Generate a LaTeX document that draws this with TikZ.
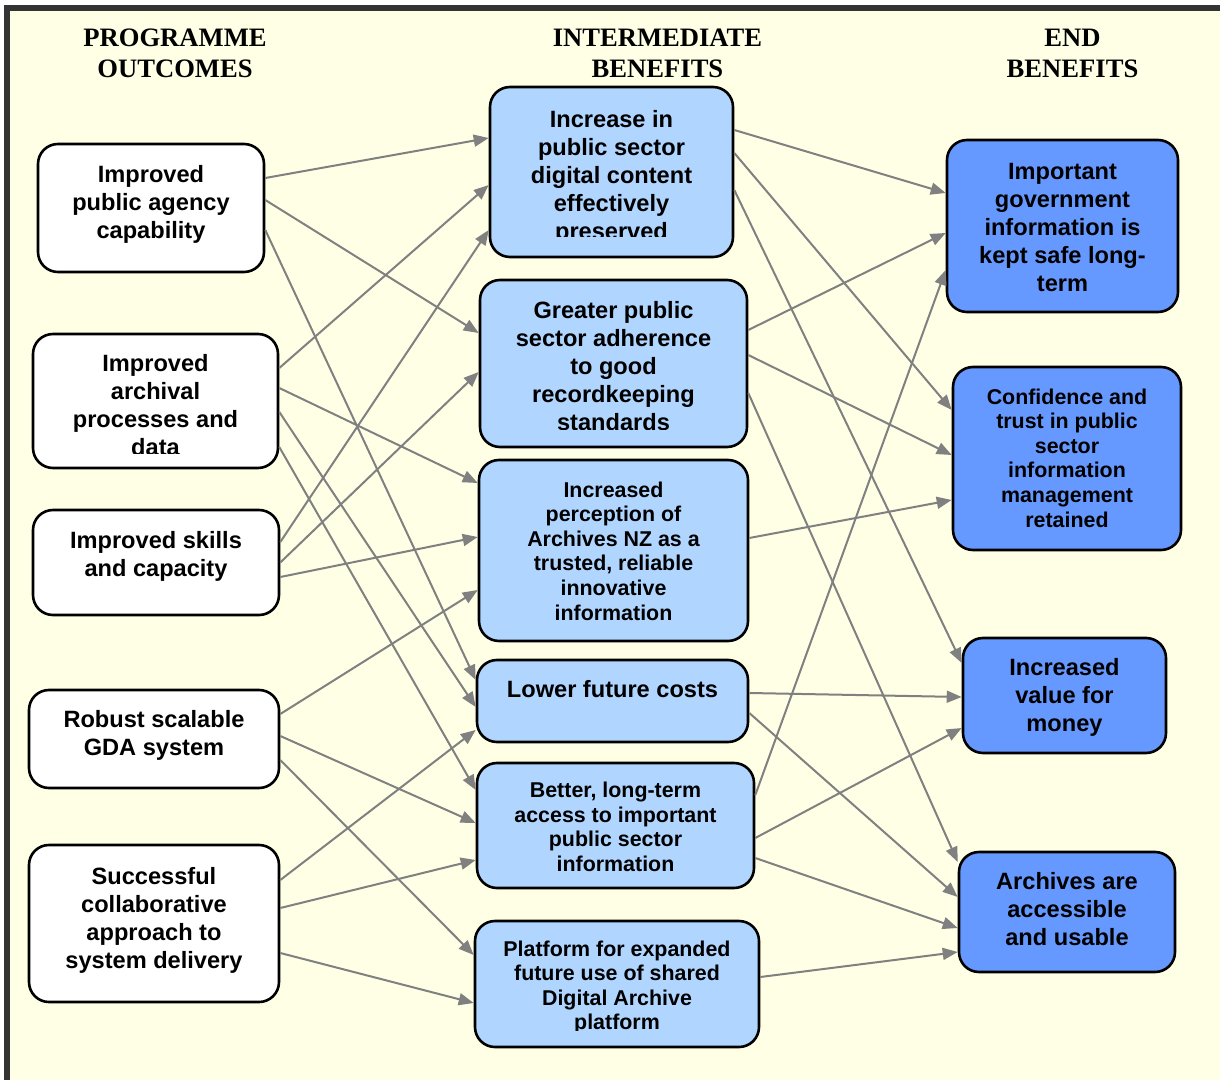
\documentclass[tikz,border=0pt]{standalone}
\usepackage{fontspec}
\setmainfont{Liberation Sans}
\newfontfamily\headfont{Liberation Serif}
\usetikzlibrary{arrows.meta}
\definecolor{bgyellow}{RGB}{255,255,230}
\definecolor{framegray}{RGB}{51,51,51}
\definecolor{midblue}{RGB}{176,214,255}
\definecolor{endblue}{RGB}{102,153,255}
\definecolor{linkgray}{RGB}{128,128,128}
\begin{document}
\begin{tikzpicture}[x=0.5pt, y=-0.5pt,
    box/.style={draw=black, line width=1.3pt, rounded corners=10pt, inner sep=0pt},
    outbox/.style={box, fill=white},
    midbox/.style={box, fill=midblue},
    endbox/.style={box, fill=endblue},
    bigtxt/.style={align=center, inner sep=0pt, font=\bfseries\fontsize{11.8}{14}\selectfont},
    smalltxt/.style={align=center, inner sep=0pt, font=\bfseries\fontsize{10.7}{12.3}\selectfont},
    head/.style={align=center, inner sep=0pt, font=\headfont\bfseries\fontsize{13.3}{15.5}\selectfont},
    link/.style={draw=linkgray, line width=1pt, -{Triangle[length=7.5pt,width=6pt]}}]
    \useasboundingbox (0,0) rectangle (1220,1080);

    % Page and frame
    \fill[white] (0,0) rectangle (1220,1080);
    \fill[bgyellow] (7,8) rectangle (1220,1080);
    \draw[framegray, line width=3pt] (7,1080) -- (7,8) -- (1220,8);

    % Column headings
    \node[head] (hprog) at (175,53.5) {PROGRAMME\\OUTCOMES};
    \node[head] (hinter) at (657.5,53.5) {INTERMEDIATE\\BENEFITS};
    \node[head] (hend) at (1072.5,53.5) {END\\BENEFITS};

    % Programme outcomes
    \node[outbox, minimum width=113pt, minimum height=64pt] (pagency) at (151,208) {};
    \node[outbox, minimum width=122.5pt, minimum height=67pt] (archproc) at (155.5,401) {};
    \node[outbox, minimum width=123pt, minimum height=52.5pt] (skills) at (156,562.5) {};
    \node[outbox, minimum width=125pt, minimum height=49pt] (gda) at (154,739) {};
    \node[outbox, minimum width=125pt, minimum height=78.5pt] (collab) at (154,923.5) {};

    \node[bigtxt] (pagency-t) at (151,204.5) {Improved\\public agency\\capability};
    \begin{scope}
      \clip (33,334) rectangle (278,453);
      \node[bigtxt] (archproc-t) at (155.5,405.5) {Improved\\archival\\processes and\\data};
    \end{scope}
    \node[bigtxt] (skills-t) at (156,556) {Improved skills\\and capacity};
    \node[bigtxt] (gda-t) at (154,735) {Robust scalable\\GDA system};
    \node[bigtxt] (collab-t) at (154,920) {Successful\\collaborative\\approach to\\system delivery};

    % Intermediate benefits
    \node[midbox, minimum width=121.5pt, minimum height=85pt] (preserved) at (611.5,172) {};
    \node[midbox, minimum width=133.5pt, minimum height=83.5pt] (adherence) at (613.5,363.5) {};
    \node[midbox, minimum width=134.5pt, minimum height=90.5pt] (perception) at (613.5,550.5) {};
    \node[midbox, minimum width=135.5pt, minimum height=41pt] (costs) at (612.5,701) {};
    \node[midbox, minimum width=138.5pt, minimum height=62.5pt] (access) at (615.5,825.5) {};
    \node[midbox, minimum width=142pt, minimum height=63pt] (platform) at (617,984) {};

    \begin{scope}
      \clip (490,87) rectangle (733,237);
      \node[bigtxt] (preserved-t) at (611.5,177.5) {Increase in\\public sector\\digital content\\effectively\\preserved};
    \end{scope}
    \begin{scope}
      \clip (480,280) rectangle (747,429);
      \node[bigtxt] (adherence-t) at (613.5,366.5) {Greater public\\sector adherence\\to good\\recordkeeping\\standards};
    \end{scope}
    \node[smalltxt] (perception-t) at (613.5,551) {Increased\\perception of\\Archives NZ as a\\trusted, reliable\\innovative\\information};
    \node[bigtxt] (costs-t) at (612.5,689) {Lower future costs};
    \node[smalltxt] (access-t) at (615.5,827) {Better, long-term\\access to important\\public sector\\information};
    \begin{scope}
      \clip (475,921) rectangle (759,1030);
      \node[smalltxt] (platform-t) at (617,987.5) {Platform for expanded\\future use of shared\\Digital Archive\\platform};
    \end{scope}

    % End benefits
    \node[endbox, minimum width=115.5pt, minimum height=86pt] (keptsafe) at (1062.5,226) {};
    \node[endbox, minimum width=114pt, minimum height=91.5pt] (confidence) at (1067,458.5) {};
    \node[endbox, minimum width=101.5pt, minimum height=57.5pt] (value) at (1064.5,695.5) {};
    \node[endbox, minimum width=108pt, minimum height=60pt] (accessible) at (1067,912) {};

    \node[bigtxt] (keptsafe-t) at (1062.5,227) {Important\\government\\information is\\kept safe long-\\term};
    \node[smalltxt] (confidence-t) at (1067,458) {Confidence and\\trust in public\\sector\\information\\management\\retained};
    \node[bigtxt] (value-t) at (1064.5,697.5) {Increased\\value for\\money};
    \node[bigtxt] (accessible-t) at (1067,909.5) {Archives are\\accessible\\and usable};

    % Outcomes to intermediate benefits
    \draw[link] ([yshift=15pt]pagency.east) -- ([yshift=17pt]preserved.west);
    \draw[link] ([yshift=4pt]pagency.east) -- ([yshift=15.25pt]adherence.west);
    \draw[link] ([yshift=-11pt]pagency.east) -- ([yshift=10.5pt]costs.west);
    \draw[link] ([yshift=16.5pt]archproc.east) -- ([yshift=-6.5pt]preserved.west);
    \draw[link] ([yshift=6.5pt]archproc.east) -- ([yshift=33.75pt]perception.west);
    \draw[link] ([yshift=-5.5pt]archproc.east) -- ([yshift=-3pt]costs.west);
    \draw[link] ([yshift=-23pt]archproc.east) -- ([yshift=17.75pt]access.west);
    \draw[link] ([yshift=10.25pt]skills.east) -- ([yshift=-29pt]preserved.west);
    \draw[link] (skills.east) -- ([yshift=-4.25pt]adherence.west);
    \draw[link] ([yshift=-7.25pt]skills.east) -- ([yshift=6.75pt]perception.west);
    \draw[link] ([yshift=12.5pt]gda.east) -- ([yshift=-19.75pt]perception.west);
    \draw[link] ([yshift=1.5pt]gda.east) -- ([yshift=1.25pt]access.west);
    \draw[link] ([yshift=-10.5pt]gda.east) -- ([yshift=14.5pt]platform.west);
    \draw[link] ([yshift=21.75pt]collab.east) -- ([yshift=-14.5pt]costs.west);
    \draw[link] ([yshift=7.75pt]collab.east) -- ([yshift=-17.25pt]access.west);
    \draw[link] ([yshift=-14.75pt]collab.east) -- ([yshift=-9.5pt]platform.west);

    % Intermediate to end benefits
    \draw[link] ([yshift=21pt]preserved.east) -- ([yshift=16.5pt]keptsafe.west);
    \draw[link] ([yshift=9.5pt]preserved.east) -- ([yshift=24.25pt]confidence.west);
    \draw[link] ([yshift=-9pt]preserved.east) -- ([yshift=16.25pt]value.west);
    \draw[link] ([yshift=16.75pt]adherence.east) -- ([yshift=-3.5pt]keptsafe.west);
    \draw[link] ([yshift=4.25pt]adherence.east) -- ([yshift=1.75pt]confidence.west);
    \draw[link] ([yshift=-14.75pt]adherence.east) -- ([yshift=25pt]accessible.west);
    \draw[link] ([yshift=6.25pt]perception.east) -- ([yshift=-20.75pt]confidence.west);
    \draw[link] ([yshift=4pt]costs.east) -- ([yshift=-0.75pt]value.west);
    \draw[link] ([yshift=-6pt]costs.east) -- ([yshift=7.5pt]accessible.west);
    \draw[link] ([yshift=15.25pt]access.east) -- ([yshift=-22pt]keptsafe.west);
    \draw[link] ([yshift=-6.25pt]access.east) -- ([yshift=-16.25pt]value.west);
    \draw[link] ([yshift=-16.25pt]access.east) -- ([yshift=-8pt]accessible.west);
    \draw[link] ([yshift=3.5pt]platform.east) -- ([yshift=-20pt]accessible.west);
\end{tikzpicture}
\end{document}
